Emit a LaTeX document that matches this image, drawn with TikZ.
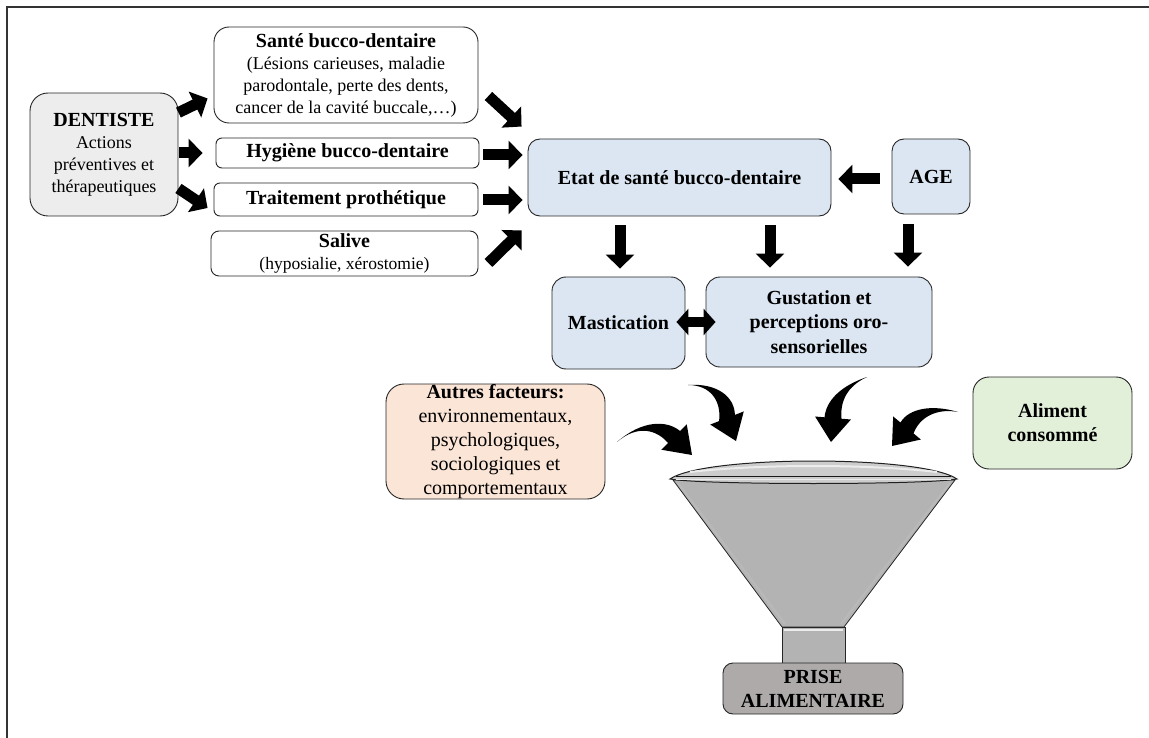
\documentclass[tikz,border=0pt]{standalone}
\usepackage{fontspec}
\setmainfont{Liberation Serif}
\usetikzlibrary{calc,arrows.meta}
\definecolor{bluebox}{HTML}{DCE6F2}
\definecolor{graybox}{HTML}{EDEDED}
\definecolor{peach}{HTML}{FBE5D6}
\definecolor{greenbox}{HTML}{E2F0D9}
\definecolor{prisec}{HTML}{AEAAAA}
\definecolor{funnelc}{HTML}{B3B3B3}
\definecolor{edgec}{HTML}{262626}
\newcommand{\bt}[1]{{\fontsize{20}{22}\selectfont\bfseries #1}}
\newcommand{\curvedarrow}[5]{%
  \coordinate (cT) at (#1); \coordinate (cA) at (#2); \coordinate (cC) at (#3);
  \coordinate (cB) at (#4); \coordinate (cP) at (#5);
  \coordinate (cN) at ($(cB)!1pt!90:(cP)$);
  \coordinate (cAu) at ($(cA)+3*(cN)-3*(cB)$);
  \coordinate (cCu) at ($(cC)+7*(cN)-7*(cB)$);
  \coordinate (cAl) at ($(cA)-3*(cN)+3*(cB)$);
  \coordinate (cCl) at ($(cC)-7*(cN)+7*(cB)$);
  \coordinate (cBu) at ($(cB)+8.5*(cN)-8.5*(cB)$);
  \coordinate (cBl) at ($(cB)-8.5*(cN)+8.5*(cB)$);
  \coordinate (cHu) at ($(cB)+18*(cN)-18*(cB)$);
  \coordinate (cHl) at ($(cB)-18*(cN)+18*(cB)$);
  \fill[black] (cT) .. controls (cAu) and (cCu) .. (cBu) -- (cHu) -- (cP) -- (cHl) -- (cBl)
     .. controls (cCl) and (cAl) .. (cT) -- cycle;
}
\begin{document}
\begin{tikzpicture}[x=1pt,y=-1pt,
  box/.style={draw=edgec, line width=0.9pt, rounded corners=#1, align=center,
    inner sep=0pt, font=\fontsize{18}{22}\selectfont},
  box/.default=12pt,
  blk/.style={line width=11pt, black, -{Triangle[length=14pt,width=28pt]}},
  blkd/.style={line width=10pt, black, {Triangle[length=12pt,width=26pt]}-{Triangle[length=12pt,width=26pt]}},
  funnelline/.style={draw=gray!30!black, line width=0.8pt}]
\useasboundingbox (0,0) rectangle (1149,738);
% frame
\draw[gray!40!black, line width=1.2pt] (7,738) -- (7,7) -- (1149,7);

% boxes
\node[box=18pt, fill=graybox, minimum width=148, minimum height=123] (dent) at (104,154.5)
  {\bt{DENTISTE}\\Actions\\préventives et\\thérapeutiques};
\node[box=15pt, fill=white, minimum width=264, minimum height=96] (sante) at (346,75)
  {\bt{Santé bucco-dentaire}\\(Lésions carieuses, maladie\\parodontale, perte des dents,\\cancer de la cavité buccale,…)};
\node[box=6pt, fill=white, minimum width=263, minimum height=30] (hyg) at (347.5,153)
  {\bt{Hygiène bucco-dentaire}};
\node[box=6pt, fill=white, minimum width=264, minimum height=33] (trait) at (346,199.5)
  {\bt{Traitement prothétique}};
\node[box=8pt, fill=white, minimum width=267, minimum height=45] (salive) at (344.5,253.5)
  {\bt{Salive}\\{\fontsize{17.5}{22}\selectfont(hyposialie, xérostomie)}};
\node[box=12pt, fill=bluebox, minimum width=303, minimum height=77] (etat) at (679.5,177.5)
  {\bt{Etat de santé bucco-dentaire}};
\node[box=12pt, fill=bluebox, minimum width=78, minimum height=75] (age) at (931,176.5)
  {\bt{AGE}};
\node[box=14pt, fill=bluebox, minimum width=133, minimum height=92] (mast) at (618.5,323)
  {\bt{Mastication}};
\node[box=14pt, fill=bluebox, minimum width=226, minimum height=90,
  font=\fontsize{20}{24.5}\selectfont\bfseries] (gust) at (819,322)
  {Gustation et\\perceptions oro-\\sensorielles};
\node[box=18pt, fill=peach, minimum width=219, minimum height=115,
  font=\fontsize{20}{24}\selectfont] (autres) at (495.5,441.5)
  {\textbf{Autres facteurs:}\\environnementaux,\\psychologiques,\\sociologiques et\\comportementaux};
\node[box=16pt, fill=greenbox, minimum width=159, minimum height=92,
  font=\fontsize{20}{24}\selectfont\bfseries] (aliment) at (1052.5,423)
  {Aliment\\consommé};

% funnel
\filldraw[fill=funnelc, funnelline] (673,480) -- (955,480) -- (844,627) -- (782,627) -- cycle;
\draw[gray!55, line width=2pt] (678,483) -- (785,624);
\draw[gray!55, line width=2pt] (950,483) -- (841,624);
\filldraw[fill=funnelc, funnelline] (782,627) rectangle (845,663);
\draw[white!85!gray, line width=2pt] (784,630) -- (843,630);
\filldraw[fill=gray!40, draw=gray!25!black, line width=1pt]
  (670,479) .. controls (705,455) and (922,455) .. (957,479)
  .. controls (925,485) and (702,485) .. cycle;
\draw[white!85!gray, line width=2pt] (690,472) .. controls (760,464) and (867,464) .. (937,472);
\draw[gray!20!black, line width=1pt] (676,476.5) -- (951,476.5);
\draw[white!85!gray, line width=1.5pt] (676,479.5) -- (951,479.5);
\node[box=10pt, fill=prisec, minimum width=180, minimum height=51,
  font=\fontsize{20}{24}\selectfont\bfseries] (prise) at (813,688.5)
  {PRISE\\ALIMENTAIRE};

% straight block arrows
\draw[blk] ($(dent.north east)+(0,20)$) -- ($(sante.south west)+(-6,-25)$);
\draw[blk] ($(dent.east)+(1,-1.5)$) -- ($(hyg.west)+(-13,0)$);
\draw[blk] ($(dent.south east)+(0,-28)$) -- ($(trait.west)+(-6,8.5)$);
\draw[blk] ($(sante.east)+(10,21)$) -- ($(etat.north west)+(-6,-12)$);
\draw[blk] ($(hyg.east)+(4,2)$) -- ($(etat.west)+(-5,-22.5)$);
\draw[blk] ($(trait.east)+(5,0.5)$) -- ($(etat.west)+(-5,22.5)$);
\draw[blk] ($(salive.east)+(10,9.5)$) -- ($(etat.south west)+(-6,14)$);
\draw[blk] ($(age.west)+(-12,2.5)$) -- ($(etat.east)+(7,1.5)$);
\draw[blk] ($(etat.south)+(-59.5,9)$) -- ($(mast.north)+(1.5,-8)$);
\draw[blk] ($(etat.south)+(90.5,9)$) -- ($(gust.north)+(-49,-9)$);
\draw[blk] ($(age.south)+(-23,10)$) -- ($(gust.north)+(89,-10)$);
\draw[blkd] ($(mast.east)+(-9,-1)$) -- ($(gust.west)+(10,0)$);

% curved arrows into the funnel
\curvedarrow{617,442}{640,422}{662,425}{674,437}{692,455}
\curvedarrow{688,385}{714,384}{728,399}{727,418}{736,441}
\curvedarrow{867,377}{844,386}{833,401}{833,418}{831,442}
\curvedarrow{958,412}{934,406}{914,413}{907,428}{892,446}
\end{tikzpicture}
\end{document}
